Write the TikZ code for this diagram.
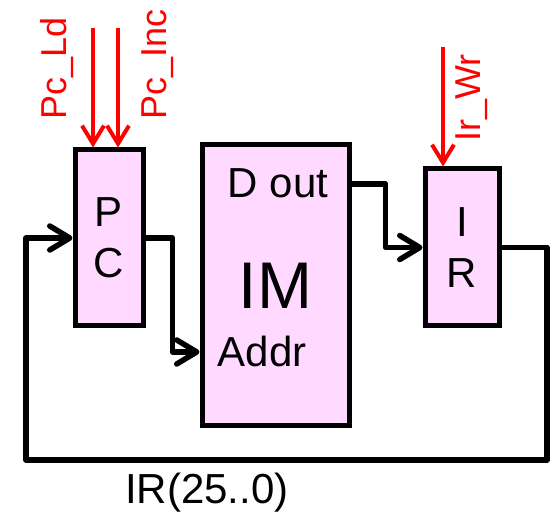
\documentclass[tikz,border=0pt]{standalone}
\usepackage{fontspec}
\setmainfont{Liberation Sans}
\usepackage{xcolor}
\usetikzlibrary{arrows.meta, positioning, calc}
\definecolor{regpink}{RGB}{255,217,255}
\begin{document}
\begin{tikzpicture}[x=1pt, y=1pt,
  box/.style={draw, line width=5pt, fill=regpink, inner sep=0pt, align=center,
    font=\fontsize{42}{51}\selectfont},
  wire/.style={line width=5.5pt, line join=round, line cap=round,
    -{Straight Barb[length=20pt, width=24pt, round, line width=5.5pt]}},
  ctrl/.style={red, line width=4pt,
    -{Straight Barb[length=18pt, width=22pt, line width=4pt]}},
  port/.style={inner sep=0pt, font=\fontsize{42}{50}\selectfont},
  sig/.style={red, inner sep=0pt, rotate=90, anchor=base west, font=\fontsize{36}{40}\selectfont}]
  \useasboundingbox (0,0) rectangle (552,514);
  \node[box, minimum width=68pt, minimum height=176pt] (pc) at (109,276) {P\\C};
  \node[box, minimum width=147pt, minimum height=281pt,
    font=\fontsize{66}{70}\selectfont] (im) at (275.5,228.5) {IM};
  \node[box, minimum width=74pt, minimum height=157pt] (ir) at (462,266.5) {I\\R};
  \node[port, anchor=base] (dout) at (278,316) {D out};
  \node[port, anchor=base] (addr) at (262,147) {Addr};
  \node[port, anchor=base] (imm) at (207,10) {IR(25..0)};
  \coordinate (ld) at (93,486);
  \coordinate (inc) at (118,486);
  \coordinate (wr) at (443,467);
  \coordinate (cr) at (547,54);
  \coordinate (cl) at (26,54);
  \draw[ctrl] (ld) -- (ld |- pc.north);
  \draw[ctrl] (inc) -- (inc |- pc.north);
  \draw[ctrl] (wr) -- (wr |- ir.north);
  \node[sig] (pcld) at (66,394) {Pc\_Ld};
  \node[sig] (pcinc) at (166,394) {Pc\_Inc};
  \node[sig] (irwr) at (480,372) {Ir\_Wr};
  \draw[wire] (pc.east) -- ++(27,0) |- (im.west |- addr);
  \draw[wire] (im.east |- dout) -- ++(34,0) |- (ir.west);
  \draw[wire] (ir.east) -| (cr) -- (cl) |- (pc.west);
\end{tikzpicture}
\end{document}
